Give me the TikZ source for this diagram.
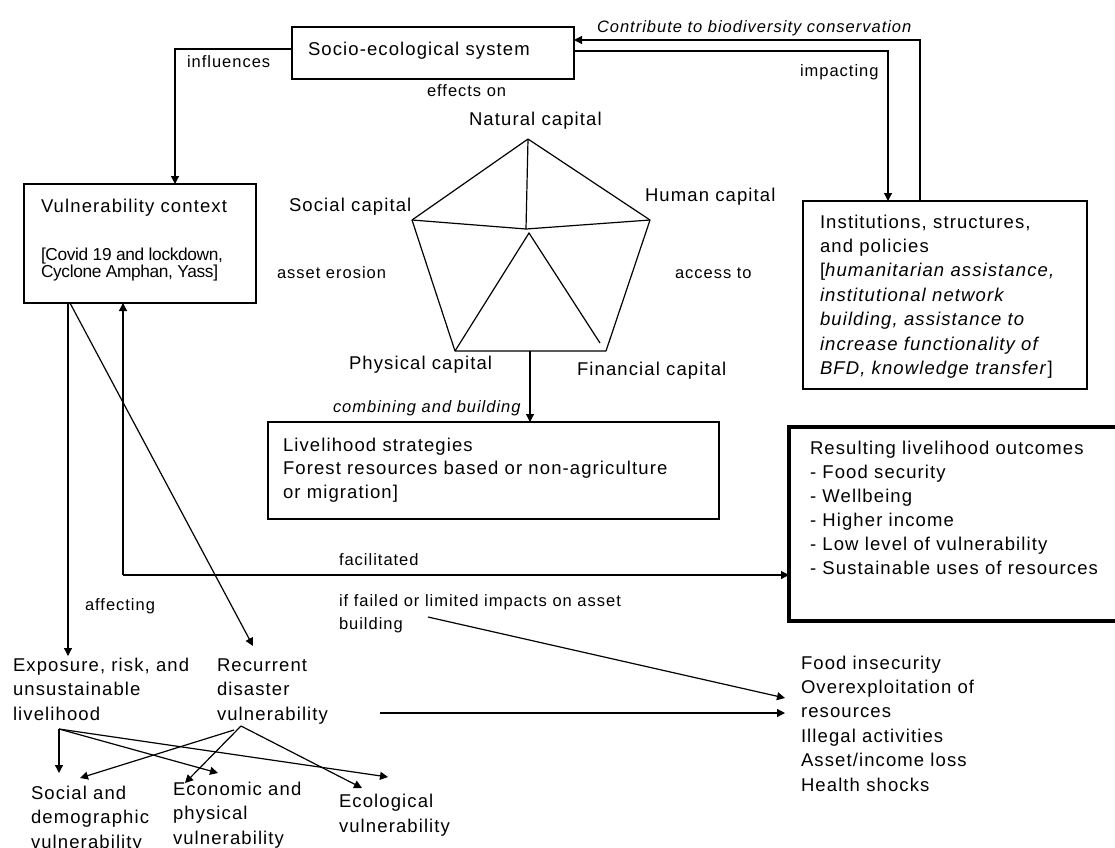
\documentclass[tikz,border=0pt]{standalone}
\usepackage{fontspec}
\setmainfont{Liberation Sans}[LetterSpace=6]
\newfontfamily\lblfont{Liberation Sans}[LetterSpace=6]
\newfontfamily\tightfont{Liberation Sans}[LetterSpace=-2]
\usetikzlibrary{arrows.meta}
\begin{document}
\begin{tikzpicture}[x=1pt,y=-1pt,
  every node/.style={inner sep=0pt, outer sep=0pt},
  box/.style={draw, line width=1.4pt, anchor=north west},
  main/.style={font=\fontsize{18.5}{24.4}\selectfont, anchor=base west, align=left},
  small/.style={font=\tightfont\fontsize{17.3}{17}\selectfont, anchor=base west, align=left},
  lbl/.style={font=\lblfont\fontsize{16.5}{23}\selectfont, anchor=base west, align=left},
  conn/.style={line width=1.2pt},
  arr/.style={conn, -{Triangle[length=8pt,width=8pt]}}]
\useasboundingbox (0,0) rectangle (1115,847);

% boxes
\node[box, minimum width=282pt, minimum height=52pt] (ses) at (292,27) {};
\node[box, minimum width=232pt, minimum height=119pt] (vuln) at (24,184) {};
\node[box, minimum width=284pt, minimum height=188pt] (inst) at (803,201) {};
\node[box, minimum width=451pt, minimum height=97pt] (liv) at (268,422) {};
\node[box, line width=3.5pt, minimum width=345pt, minimum height=194pt] (res) at (789,427) {};

% box texts (multi-line nodes are placed by the baseline of their last line)
\node[main] (sesT) at (308,55) {Socio-ecological system};
\node[main] (vulnT) at (41,212) {Vulnerability context};
\node[small] (covid) at (41,277) {[Covid 19 and lockdown,\\Cyclone Amphan, Yass]};
\node[main] (instT) at (820,374.4) {Institutions, structures,\\and policies\\{[}\textit{humanitarian assistance,}\\\textit{institutional network}\\\textit{building, assistance to}\\\textit{increase functionality of}\\\textit{BFD, knowledge transfer}]};
\node[main, font=\fontsize{18.5}{23.5}\selectfont] (livT) at (283,498) {Livelihood strategies\\Forest resources based or non-agriculture\\or migration]};
\node[main, font=\fontsize{18.5}{24}\selectfont] (resT) at (810,574) {Resulting livelihood outcomes\\- Food security\\- Wellbeing\\- Higher income\\- Low level of vulnerability\\- Sustainable uses of resources};

% capitals
\node[main] (natT) at (469,125) {Natural capital};
\node[main] (socT) at (289,211) {Social capital};
\node[main] (humT) at (645,201) {Human capital};
\node[main] (phyT) at (349,369) {Physical capital};
\node[main] (finT) at (577,375) {Financial capital};

% lower texts
\node[main] (outT) at (801,791) {Food insecurity\\Overexploitation of\\resources\\Illegal activities\\Asset/income loss\\Health shocks};
\node[main] (expT) at (13,720) {Exposure, risk, and\\unsustainable\\livelihood};
\node[main] (recT) at (217,720) {Recurrent\\disaster\\vulnerability};
\node[main] (socV) at (31,848) {Social and\\demographic\\vulnerability};
\node[main] (ecoV) at (173,844) {Economic and\\physical\\vulnerability};
\node[main] (ecolV) at (339,832) {Ecological\\vulnerability};

% labels
\node[lbl] (lInf) at (187,67) {influences};
\node[lbl] (lEff) at (427,96) {effects on};
\node[lbl] (lCon) at (597,32) {\itshape Contribute to biodiversity conservation};
\node[lbl] (lImp) at (800,76) {impacting};
\node[lbl] (lEro) at (277,278) {asset erosion};
\node[lbl] (lAcc) at (675,278) {access to};
\node[lbl] (lComb) at (333,412) {\itshape combining and building};
\node[lbl] (lFac) at (339,565) {facilitated};
\node[lbl] (lAff) at (85,610) {affecting};
\node[lbl] (lFail) at (339,629) {if failed or limited impacts on asset\\building};

% pentagon
\coordinate (pT) at (528,139);
\coordinate (pL) at (412,220);
\coordinate (pR) at (650,220);
\coordinate (pBL) at (455,351);
\coordinate (pBR) at (606,351);
\coordinate (pC) at (526,229);
\coordinate (pC2) at (529,233);
\coordinate (pIn) at (600,343);
\draw[conn, line join=round] (pT) -- (pR) -- (pBR) -- (pBL) -- (pL) -- cycle;
\draw[conn] (pT) -- (pC) (pL) -- (pC) -- (pR);
\draw[conn] (pBL) -- (pC2) -- (pIn);
\coordinate (pBot) at (530,351);

% top connectors
\coordinate (vulnIn) at ([xshift=151pt]vuln.north west);
\draw[arr] ([yshift=4pt]ses.west) -| (vulnIn);
\draw[arr] ([xshift=117pt]inst.north west) |- ([yshift=13pt]ses.east);
\draw[arr] ([yshift=2pt]ses.east) -| ([xshift=85pt]inst.north west);
\draw[arr] (pBot) -- (pBot |- liv.north);

% vulnerability context connectors
\coordinate (expIn) at (68,656);
\coordinate (recIn) at (253,646);
\coordinate (facStart) at (123,575);
\draw[arr] ([xshift=44pt]vuln.south west) -- (expIn);
\draw[arr] ([xshift=46pt]vuln.south west) -- (recIn);
\draw[arr] (facStart) -- ([xshift=99pt]vuln.south west);
\draw[arr] (facStart) -- (res.west |- facStart);

% to negative outcomes
\coordinate (bldStart) at (428,617);
\coordinate (outIn1) at (785,698);
\coordinate (recOut) at (380,713);
\coordinate (outIn2) at (785,713);
\draw[arr] (bldStart) -- (outIn1);
\draw[arr] (recOut) -- (outIn2);

% bottom fan
\coordinate (expO) at (59,729);
\coordinate (recO) at (241,726);
\coordinate (recO2) at (234,730);
\coordinate (socIn1) at (59,773);
\coordinate (socIn2) at (80,778);
\coordinate (ecoIn1) at (218,773);
\coordinate (ecoIn2) at (185,783);
\coordinate (ecolIn1) at (388,777);
\coordinate (ecolIn2) at (362,788);
\draw[arr] (expO) -- (socIn1);
\draw[arr] (expO) -- (ecoIn1);
\draw[arr] (expO) -- (ecolIn1);
\draw[arr] (recO2) -- (socIn2);
\draw[arr] (recO) -- (ecoIn2);
\draw[arr] (recO) -- (ecolIn2);
\end{tikzpicture}
\end{document}
